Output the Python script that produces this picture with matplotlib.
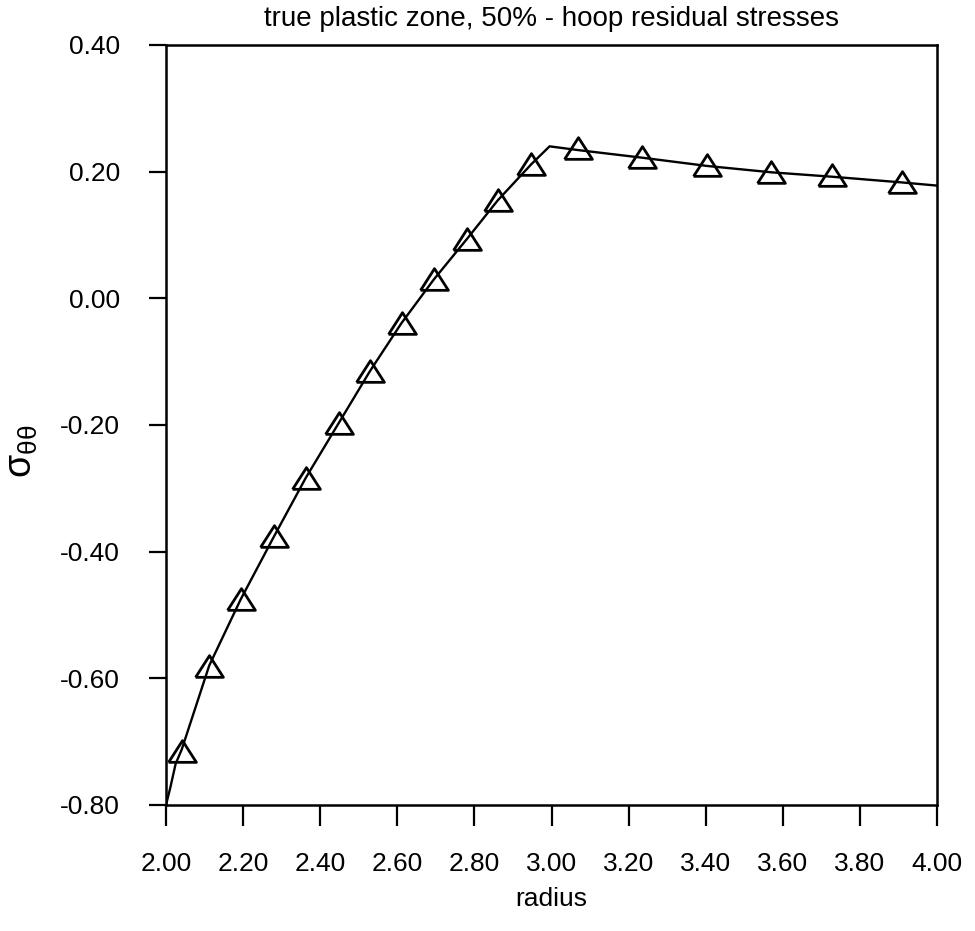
import numpy as np
import matplotlib
matplotlib.use('Agg')
import matplotlib.pyplot as plt
from matplotlib.ticker import FormatStrFormatter

plt.rcParams['font.family'] = ['Liberation Sans', 'DejaVu Sans']
plt.rcParams['mathtext.fontset'] = 'custom'
plt.rcParams['mathtext.rm'] = 'Liberation Sans'
plt.rcParams['axes.unicode_minus'] = False

# curve
line_r = [2.00, 2.011, 2.025, 2.041, 2.112, 2.194, 2.281, 2.363, 2.448, 2.529, 2.611,
          2.695, 2.781, 2.861, 2.948, 2.995, 3.070, 3.236, 3.404, 3.570, 3.728, 3.909, 4.00]
line_s = [-0.800, -0.773, -0.735, -0.712, -0.580, -0.475, -0.375, -0.283, -0.197, -0.115, -0.039,
          0.030, 0.094, 0.155, 0.212, 0.240, 0.234, 0.222, 0.209, 0.199, 0.192, 0.183, 0.178]

# triangle symbols
mark_r = [2.041, 2.112, 2.194, 2.281, 2.363, 2.448, 2.529, 2.611, 2.695, 2.781, 2.861, 2.948,
          3.070, 3.236, 3.404, 3.570, 3.728, 3.909]
mark_s = [-0.715, -0.580, -0.475, -0.375, -0.283, -0.197, -0.115, -0.039, 0.030, 0.094, 0.155, 0.212,
          0.237, 0.223, 0.210, 0.199, 0.194, 0.183]

x_ticks = [2.0, 2.2, 2.4, 2.6, 2.8, 3.0, 3.2, 3.4, 3.6, 3.8, 4.0]
y_ticks = [-0.8, -0.6, -0.4, -0.2, 0.0, 0.2, 0.4]

fig = plt.figure(figsize=(9.75, 9.31), dpi=100)
ax = fig.add_axes([166 / 975, 1 - 805 / 931, (937 - 166) / 975, (805 - 45) / 931])

tri = [(-1, -0.78), (1, -0.78), (0, 0.78), (-1, -0.78)]
ax.plot(line_r, line_s, '-', color='black', lw=1.7)
ax.plot(mark_r, mark_s, linestyle='none', marker=tri, ms=20, mfc='none',
        mec='black', mew=2.0)

ax.set_xlim(2.0, 4.0)
ax.set_ylim(-0.8, 0.4)
ax.set_xticks(x_ticks)
ax.set_yticks(y_ticks)
ax.xaxis.set_major_formatter(FormatStrFormatter('%.2f'))
ax.yaxis.set_major_formatter(FormatStrFormatter('%.2f'))
ax.tick_params(axis='x', direction='out', length=15, width=1.6, pad=19, labelsize=19)
ax.tick_params(axis='y', direction='out', length=12, width=1.6, pad=21, labelsize=19)
for s in ax.spines.values():
    s.set_linewidth(1.8)

ax.set_title('true plastic zone, 50% - hoop residual stresses', fontsize=20, pad=14)
ax.set_xlabel('radius', fontsize=19, labelpad=8)
ax.set_ylabel(r'$\mathregular{σ_{θθ}}$', fontsize=27)
ax.yaxis.set_label_coords(-0.164, 0.466)

fig.savefig('out.png', dpi=100)
